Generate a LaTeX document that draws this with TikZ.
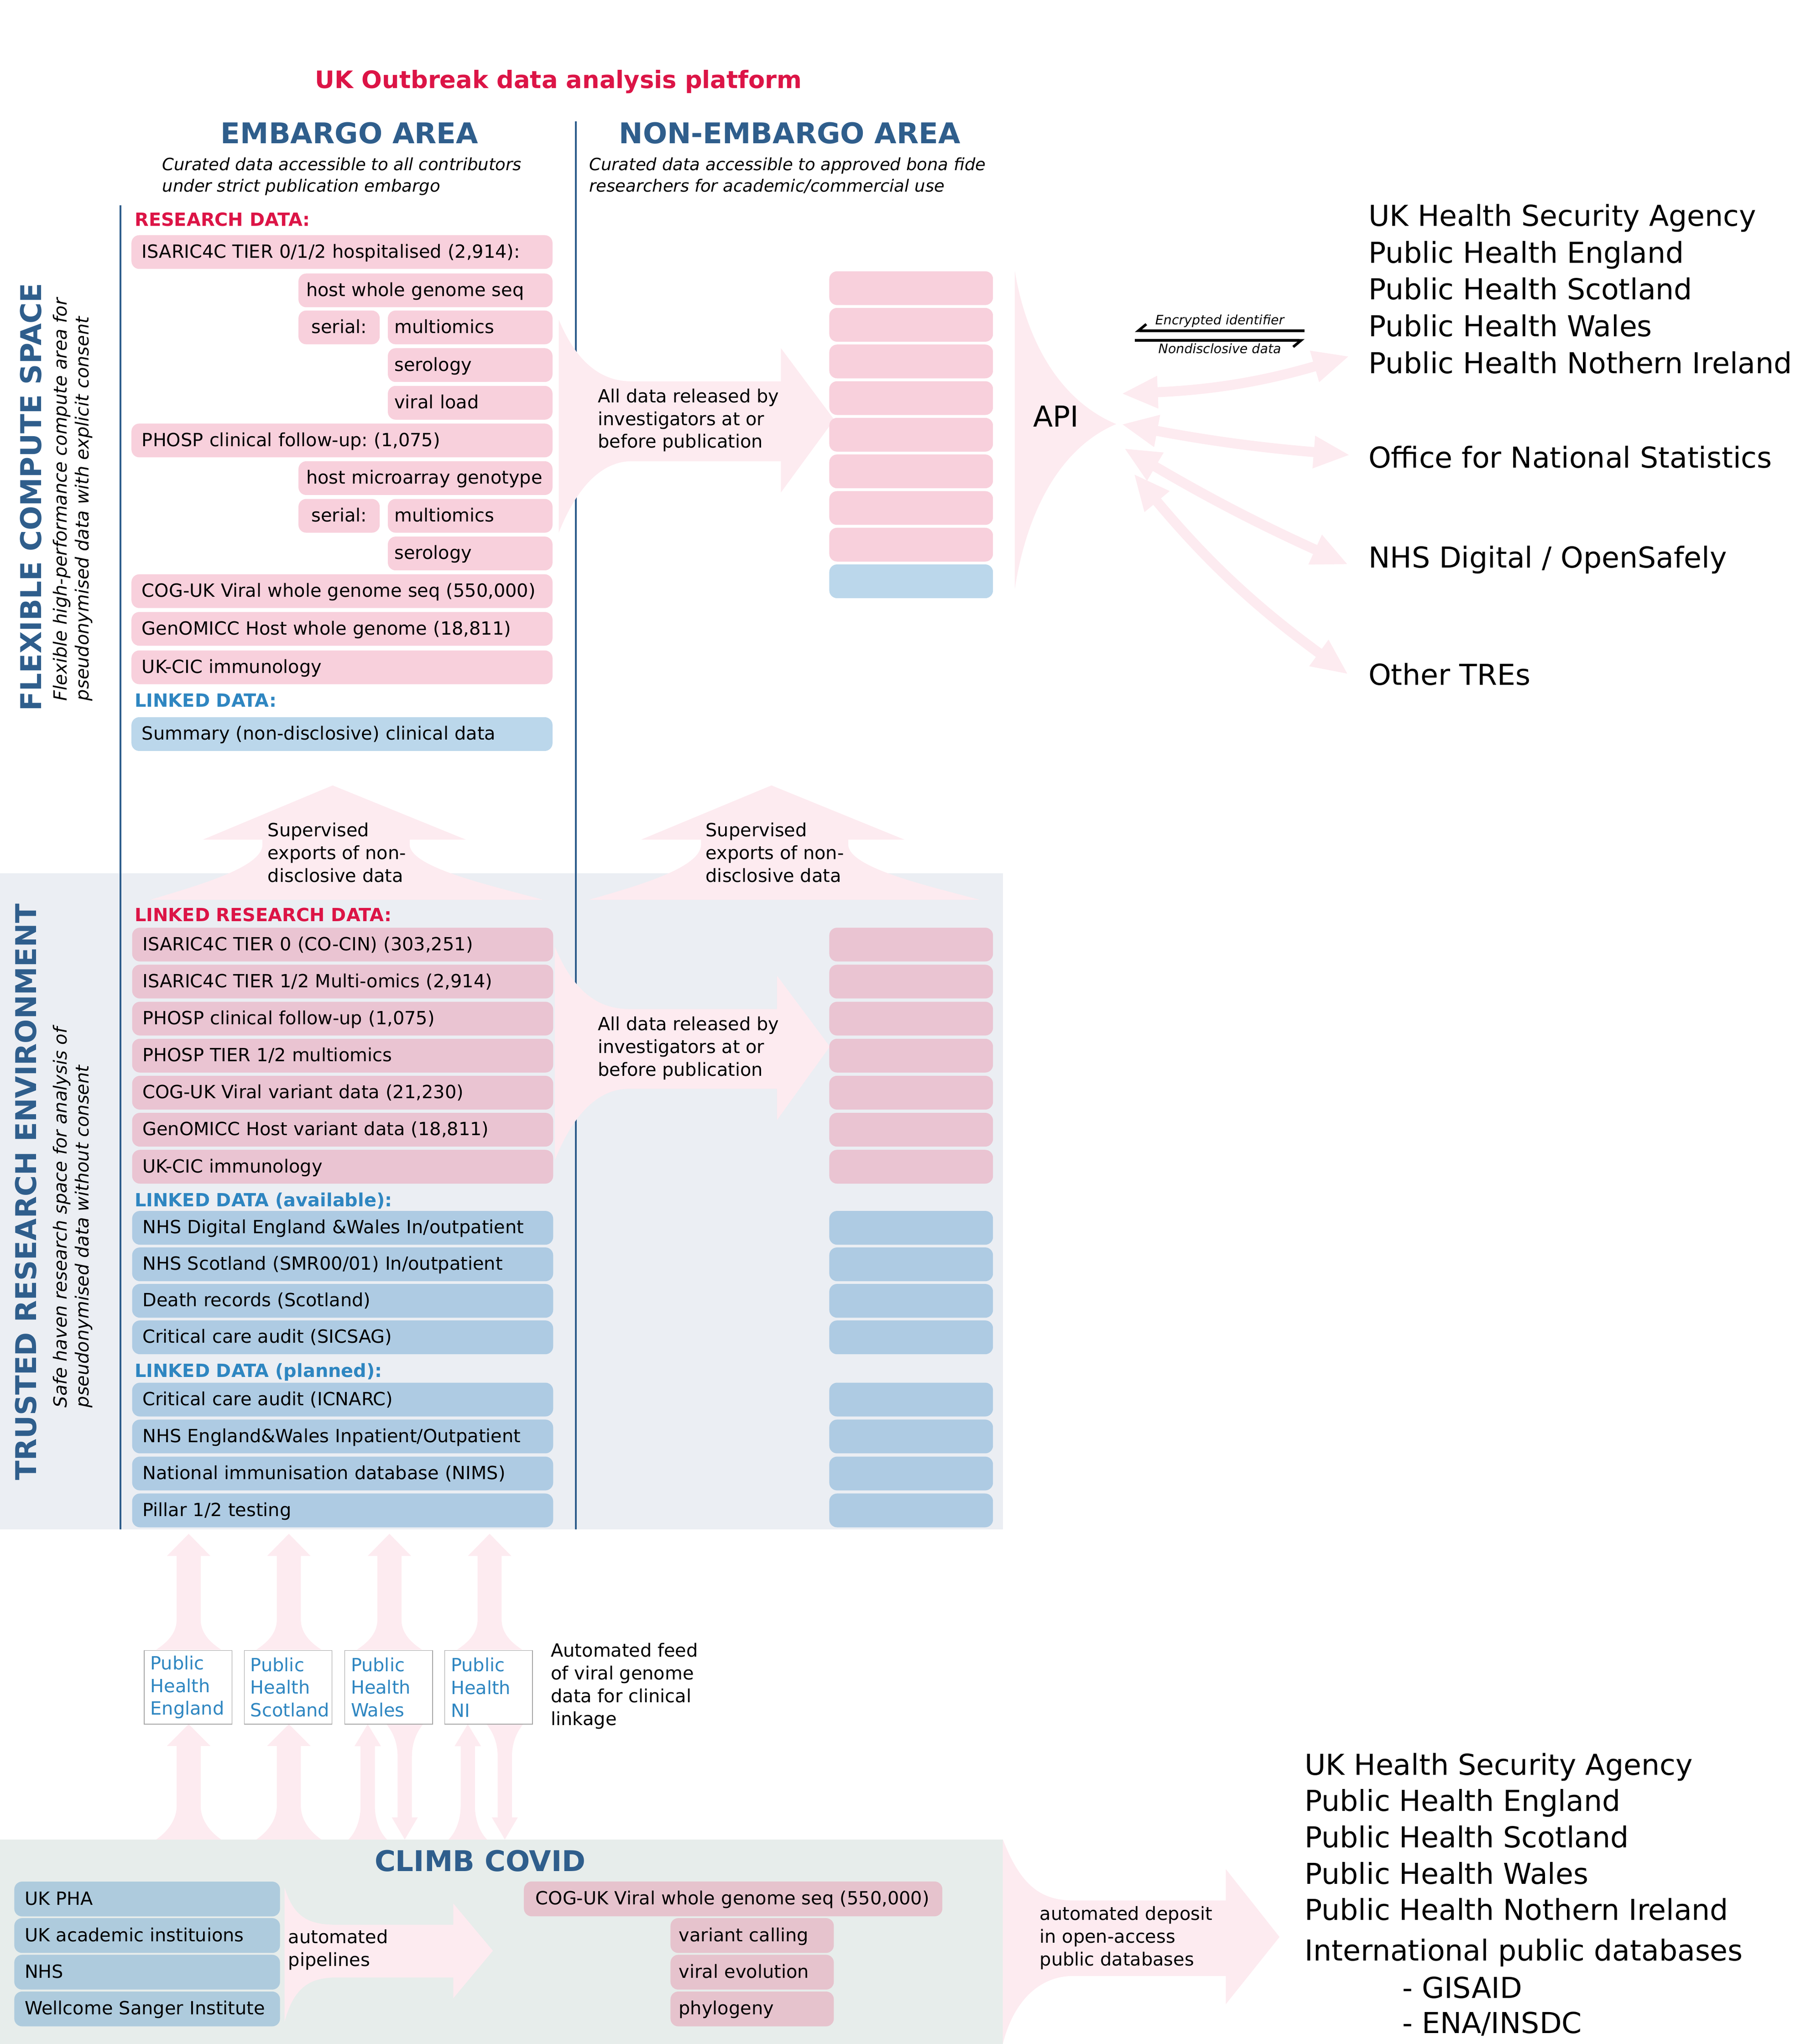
\documentclass[tikz,border=0pt]{standalone}
\usepackage{fontspec}
\setmainfont{DejaVu Sans}
\usetikzlibrary{arrows.meta}
\definecolor{crimson}{RGB}{220,20,70}
\definecolor{steel}{RGB}{47,94,140}
\definecolor{linkblue}{RGB}{46,134,193}
\definecolor{flow}{RGB}{253,235,240}
\definecolor{fcs-pink}{RGB}{248,208,220}
\definecolor{fcs-blue}{RGB}{187,215,235}
\definecolor{tre-bg}{RGB}{235,238,243}
\definecolor{tre-pink}{RGB}{234,196,210}
\definecolor{tre-blue}{RGB}{174,203,227}
\definecolor{climb-bg}{RGB}{231,237,235}
\definecolor{climb-pink}{RGB}{230,195,205}
\definecolor{climb-blue}{RGB}{174,203,221}
\frenchspacing

\begin{document}
\begin{tikzpicture}[x=1pt, y=-1pt, >={Triangle[width=23pt,length=28pt]},
	databox/.style={rounded corners=6pt, anchor=west, inner ysep=0pt, minimum height=26pt, align=left, text height=12pt, text depth=3pt, font=\fontsize{14}{17.5}\selectfont},
	widebox/.style={databox, text width=308pt, inner xsep=8pt},
	hostbox/.style={databox, text width=183.5pt, inner xsep=6pt},
	serialbox/.style={databox, text width=42.5pt, inner xsep=10pt},
	subbox/.style={databox, text width=116.7pt, inner xsep=5pt},
	blankbox/.style={databox, minimum width=126pt, inner xsep=0pt},
	climbbox/.style={databox, minimum height=26.8pt, text width=188.5pt, inner xsep=8pt},
	phbox/.style={draw=black!35, line width=0.5pt, fill=white, anchor=north west, text=linkblue, align=left, text width=58pt, inner xsep=4.8pt, minimum height=56.7pt, font=\fontsize{14}{17.5}\selectfont},
	sectionlbl/.style={anchor=base west, inner sep=0pt, font=\fontsize{14}{17.5}\selectfont\bfseries},
	areatitle/.style={inner sep=0pt, text=steel, font=\fontsize{22}{26}\selectfont\bfseries},
	subtitle/.style={anchor=north west, inner sep=0pt, align=left, font=\fontsize{13}{16.5}\selectfont\itshape},
	sidenote/.style={rotate=90, anchor=west, inner sep=0pt, align=left, font=\fontsize{14}{17}\selectfont\itshape},
	notetext/.style={anchor=north west, inner sep=0pt, align=left, font=\fontsize{14}{17.5}\selectfont},
	listtext/.style={anchor=base west, inner sep=0pt, font=\fontsize{22.2}{27}\selectfont},
	apilink/.style={flow, line width=7.7pt, <->},
	idflow/.style={line width=2pt, -{Straight Barb[right,length=6pt,width=10pt]}}]

	\useasboundingbox (0,0) rectangle (1386,1573.2);

	% panels and dividers
	\fill[tre-bg] (0,672) rectangle (772,1177);
	\fill[climb-bg] (0,1415.7) rectangle (772,1573.2);
	\draw[steel, line width=1.4pt] (92.8,158) -- (92.8,1177);
	\draw[steel, line width=1.4pt] (443,93.3) -- (443,1177);

	% broad flow arrows
	\fill[flow] (430,246) .. controls (445,282) and (465,293.5) .. (486,293.5) -- (601,293.5) -- (601,268) -- (642,323) -- (601,379) -- (601,355) -- (486,355) .. controls (465,355) and (445,372) .. (430,410) -- cycle;
	\fill[flow] (427,728.6) .. controls (442,765) and (462,776.6) .. (484,776.6) -- (598,776.6) -- (598,751) -- (638.6,805.5) -- (598,862) -- (598,838) -- (484,838) .. controls (462,838) and (442,855) .. (427,893) -- cycle;
	\fill[flow] (256,604.5) -- (358.7,646.3) -- (315.3,646.3) -- (315.3,650) .. controls (315.3,668) and (380,682) .. (417.8,692.5) -- (115.8,692.5) .. controls (150,682) and (202,668) .. (202,650) -- (202,646.3) -- (156,646.3) -- cycle;
	\fill[flow] (593.7,604.5) -- (696.2,646.3) -- (652.8,646.3) -- (652.8,650) .. controls (652.8,668) and (715,682) .. (753.8,692.5) -- (453.3,692.5) .. controls (490,682) and (539.5,668) .. (539.5,650) -- (539.5,646.3) -- (493.2,646.3) -- cycle;
	\fill[flow] (781,208.7) .. controls (790,262) and (815,308) .. (859,326.4) .. controls (815,345) and (790,395) .. (781,453) -- cycle;
	\fill[flow] (219,1452.6) .. controls (226,1476) and (238,1481.4) .. (258.6,1481.4) -- (348.8,1481.4) -- (348.8,1465) -- (379.3,1501.4) -- (348.8,1538) -- (348.8,1522) -- (258.6,1522) .. controls (238,1522) and (226,1530) .. (219,1556) -- cycle;
	\fill[flow] (771.7,1415.6) .. controls (785,1450) and (800,1462.7) .. (826,1462.7) -- (943.3,1462.7) -- (943.3,1438.5) -- (984.7,1490.8) -- (943.3,1542.6) -- (943.3,1520.8) -- (826,1520.8) .. controls (800,1520.8) and (780,1540) .. (771.7,1573.2) -- cycle;

	% feeds from CLIMB through the public health agencies
	\foreach \cx in {145.2,222.3,299.7,376.8}
		\fill[flow] (\cx,1180.5) -- (\cx+16.75,1197.6) -- (\cx+9.25,1197.6) -- (\cx+9.25,1246.5) .. controls (\cx+9.25,1258) and (\cx+18,1265) .. (\cx+25,1269.7) -- (\cx-25,1269.7) .. controls (\cx-18,1265) and (\cx-9.25,1258) .. (\cx-9.25,1246.5) -- (\cx-9.25,1197.6) -- (\cx-16.75,1197.6) -- cycle;
	\foreach \cx in {145.2,222.3}
		\fill[flow] (\cx,1327) -- (\cx+16.75,1343.8) -- (\cx+9.25,1343.8) -- (\cx+9.25,1389.8) .. controls (\cx+9.25,1402) and (\cx+18,1411) .. (\cx+25,1415.8) -- (\cx-25,1415.8) .. controls (\cx-18,1411) and (\cx-9.25,1402) .. (\cx-9.25,1389.8) -- (\cx-9.25,1343.8) -- (\cx-16.75,1343.8) -- cycle;
	\foreach \cx in {283,360}
		\fill[flow] (\cx,1327) -- (\cx+10.2,1344) -- (\cx+5.5,1344) -- (\cx+5.5,1389.8) .. controls (\cx+5.5,1402) and (\cx+10,1411) .. (\cx+14.8,1415.8) -- (\cx-14.8,1415.8) .. controls (\cx-10,1411) and (\cx-5.5,1402) .. (\cx-5.5,1389.8) -- (\cx-5.5,1344) -- (\cx-10.2,1344) -- cycle;
	\foreach \cx in {311.5,388.5}
		\fill[flow] (\cx,1415.8) -- (\cx+10,1398.8) -- (\cx+5.5,1398.8) -- (\cx+5.5,1352) .. controls (\cx+5.5,1340) and (\cx+10,1332) .. (\cx+14.4,1326.7) -- (\cx-14.4,1326.7) .. controls (\cx-10,1332) and (\cx-5.5,1340) .. (\cx-5.5,1352) -- (\cx-5.5,1398.8) -- (\cx-10,1398.8) -- cycle;

	% headings
	\node[anchor=base, inner sep=0pt, text=crimson, font=\fontsize{18.5}{22}\selectfont\bfseries] (title) at (429.9,67.9) {UK Outbreak data analysis platform};
	\node[areatitle, anchor=base] (embargo) at (269,110.6) {EMBARGO AREA};
	\node[areatitle, anchor=base] (nonembargo) at (607.8,110.6) {NON-EMBARGO AREA};
	\node[subtitle] (embargonote) at (124.7,121.1) {Curated data accessible to all contributors\\under strict publication embargo};
	\node[subtitle] (nonembargonote) at (453.3,121.1) {Curated data accessible to approved bona fide\\researchers for academic/commercial use};
	\node[areatitle, rotate=90] (fcs) at (23.8,382.5) {FLEXIBLE COMPUTE SPACE};
	\node[sidenote] (fcsnote) at (56,539.6) {Flexible high-performance compute area for\\pseudonymised data with explicit consent};
	\node[areatitle, rotate=90] (tre) at (20,917.5) {TRUSTED RESEARCH ENVIRONMENT};
	\node[sidenote] (trenote) at (56,1083.6) {Safe haven research space for analysis of\\pseudonymised data without consent};

	% flexible compute space
	\node[sectionlbl, text=crimson] (researchlbl) at (103.5,174) {RESEARCH DATA:};
	\node[widebox, fill=fcs-pink] (isaric) at (101,194) {ISARIC4C TIER 0/1/2 hospitalised (2,914):};
	\node[hostbox, fill=fcs-pink] (hostwgs) at (229.5,223.5) {host whole genome seq};
	\node[serialbox, fill=fcs-pink] (serialA) at (229.5,252) {serial:};
	\node[subbox, fill=fcs-pink] (multiA) at (298.3,252) {multiomics};
	\node[subbox, fill=fcs-pink] (seroA) at (298.3,281) {serology};
	\node[subbox, fill=fcs-pink] (viralload) at (298.3,310) {viral load};
	\node[widebox, fill=fcs-pink] (phosp) at (101,339) {PHOSP clinical follow-up: (1,075)};
	\node[hostbox, fill=fcs-pink] (hostarray) at (229.5,368) {host microarray genotype};
	\node[serialbox, fill=fcs-pink] (serialB) at (229.5,397) {serial:};
	\node[subbox, fill=fcs-pink] (multiB) at (298.3,397) {multiomics};
	\node[subbox, fill=fcs-pink] (seroB) at (298.3,426) {serology};
	\node[widebox, fill=fcs-pink] (cogwgs) at (101,455) {COG-UK Viral whole genome seq (550,000)};
	\node[widebox, fill=fcs-pink] (genomicc) at (101,484) {GenOMICC Host whole genome (18,811)};
	\node[widebox, fill=fcs-pink] (ukcic) at (101,513.6) {UK-CIC immunology};
	\node[sectionlbl, text=linkblue] (linkedlbl) at (103.5,544) {LINKED DATA:};
	\node[widebox, fill=fcs-blue] (summary) at (101,565) {Summary (non-disclosive) clinical data};
	\foreach \k in {0,...,7}
		\node[blankbox, fill=fcs-pink] (release\k) at (638,221.8+28.2*\k) {};
	\node[blankbox, fill=fcs-blue] (release8) at (638,447.4) {};

	\node[notetext] (releasenote) at (459.9,299) {All data released by\\investigators at or\\before publication};
	\node[notetext] (exportnoteA) at (205.9,633.1) {Supervised\\exports of non-\\disclosive data};
	\node[notetext] (exportnoteB) at (542.9,633.1) {Supervised\\exports of non-\\disclosive data};

	% trusted research environment
	\node[sectionlbl, text=crimson] (linkedresearchlbl) at (103.5,709) {LINKED RESEARCH DATA:};
	\node[widebox, fill=tre-pink] (cocin) at (101.5,727) {ISARIC4C TIER 0 (CO-CIN) (303,251)};
	\node[widebox, fill=tre-pink] (tieromics) at (101.5,755.5) {ISARIC4C TIER 1/2 Multi-omics (2,914)};
	\node[widebox, fill=tre-pink] (phospfu) at (101.5,784) {PHOSP clinical follow-up (1,075)};
	\node[widebox, fill=tre-pink] (phospomics) at (101.5,812.5) {PHOSP TIER 1/2 multiomics};
	\node[widebox, fill=tre-pink] (cogvariant) at (101.5,841) {COG-UK Viral variant data (21,230)};
	\node[widebox, fill=tre-pink] (hostvariant) at (101.5,869.5) {GenOMICC Host variant data (18,811)};
	\node[widebox, fill=tre-pink] (ukcicB) at (101.5,898) {UK-CIC immunology};
	\node[sectionlbl, text=linkblue] (availlbl) at (103.5,928.5) {LINKED DATA (available):};
	\node[widebox, fill=tre-blue] (nhsdew) at (101.5,945) {NHS Digital England \&Wales In/outpatient};
	\node[widebox, fill=tre-blue] (smr) at (101.5,973.1) {NHS Scotland (SMR00/01) In/outpatient};
	\node[widebox, fill=tre-blue] (deaths) at (101.5,1001.2) {Death records (Scotland)};
	\node[widebox, fill=tre-blue] (sicsag) at (101.5,1029.3) {Critical care audit (SICSAG)};
	\node[sectionlbl, text=linkblue] (plannedlbl) at (103.5,1060) {LINKED DATA (planned):};
	\node[widebox, fill=tre-blue] (icnarc) at (101.5,1077.2) {Critical care audit (ICNARC)};
	\node[widebox, fill=tre-blue] (nhsew) at (101.5,1105.6) {NHS England\&Wales Inpatient/Outpatient};
	\node[widebox, fill=tre-blue] (nims) at (101.5,1134.1) {National immunisation database (NIMS)};
	\node[widebox, fill=tre-blue] (pillar) at (101.5,1162.5) {Pillar 1/2 testing};
	\foreach \y [count=\i] in {727,755.5,784,812.5,841,869.5,898}
		\node[blankbox, fill=tre-pink] (trepink\i) at (638,\y) {};
	\foreach \y [count=\i] in {945,973.1,1001.2,1029.3,1077.2,1105.6,1134.1,1162.5}
		\node[blankbox, fill=tre-blue] (treblue\i) at (638,\y) {};
	\node[notetext] (releasenoteB) at (459.9,782.3) {All data released by\\investigators at or\\before publication};

	% public health agencies
	\node[phbox] (phe) at (110.7,1270) {Public\\Health\\England};
	\node[phbox] (phs) at (187.7,1270) {Public\\Health\\Scotland};
	\node[phbox] (phw) at (265,1270) {Public\\Health\\Wales};
	\node[phbox] (phni) at (342,1270) {Public\\Health\\NI};
	\node[notetext] (feednote) at (423.8,1264.5) {Automated feed\\of viral genome\\data for clinical\\linkage};

	% CLIMB COVID
	\node[areatitle, anchor=base] (climb) at (369.5,1440.3) {CLIMB COVID};
	\node[climbbox, fill=climb-blue] (ukpha) at (10.8,1461.6) {UK PHA};
	\node[climbbox, fill=climb-blue] (academic) at (10.8,1489.7) {UK academic instituions};
	\node[climbbox, fill=climb-blue] (nhs) at (10.8,1517.9) {NHS};
	\node[climbbox, fill=climb-blue] (sanger) at (10.8,1546.2) {Wellcome Sanger Institute};
	\node[notetext] (pipenote) at (221.7,1485) {automated\\pipelines};
	\node[climbbox, fill=climb-pink, text width=304pt, inner xsep=9pt] (cogclimb) at (403,1461.5) {COG-UK Viral whole genome seq (550,000)};
	\node[climbbox, fill=climb-pink, text width=112.9pt, inner xsep=6.4pt] (calling) at (515.8,1489.7) {variant calling};
	\node[climbbox, fill=climb-pink, text width=112.9pt, inner xsep=6.4pt] (evolution) at (515.8,1517.9) {viral evolution};
	\node[climbbox, fill=climb-pink, text width=112.9pt, inner xsep=6.4pt] (phylogeny) at (515.8,1546.2) {phylogeny};
	\node[notetext] (depositnote) at (800,1467.1) {automated deposit\\in open-access\\public databases};

	% API and partners
	\node[listtext] (api) at (795,328.5) {API};
	\node[listtext] (ukhsaA) at (1053,174) {UK Health Security Agency};
	\node[listtext] (pheA) at (1053,202.3) {Public Health England};
	\node[listtext] (phsA) at (1053,230.6) {Public Health Scotland};
	\node[listtext] (phwA) at (1053,259) {Public Health Wales};
	\node[listtext] (phniA) at (1053,287.3) {Public Health Nothern Ireland};
	\node[listtext] (ons) at (1053,360) {Office for National Statistics};
	\node[listtext] (nhsd) at (1053,437) {NHS Digital / OpenSafely};
	\node[listtext] (othertre) at (1053,527.3) {Other TREs};

	\coordinate (apiA) at (863,303);
	\coordinate (apiB) at (863,326.5);
	\coordinate (apiC) at (865,345);
	\coordinate (apiD) at (872.5,364.6);
	\draw[apilink] (apiA) to[bend right=7] ([xshift=-14.5pt,yshift=4.9pt]phniA.west);
	\draw[apilink] (apiB) to[bend right=3] ([xshift=-14pt,yshift=1.5pt]ons.west);
	\draw[apilink] (apiC) to[bend right=3] ([xshift=-15.4pt,yshift=-3.7pt]nhsd.west);
	\draw[apilink] (apiD) to[bend right=7] ([xshift=-15.4pt]othertre.west);

	\coordinate (idL) at (873.4,254.5);
	\coordinate (idR) at (1004,254.5);
	\coordinate (ndL) at (873.4,262);
	\coordinate (ndR) at (1004,262);
	\draw[idflow] (idR) -- node[above, inner sep=1.5pt, font=\fontsize{10}{12}\selectfont\itshape] (idlabel) {Encrypted identifier} (idL);
	\draw[idflow] (ndL) -- node[below, inner sep=1.5pt, font=\fontsize{10}{12}\selectfont\itshape] (ndlabel) {Nondisclosive data} (ndR);

	% open-access deposit
	\node[listtext] (ukhsaB) at (1004,1366) {UK Health Security Agency};
	\node[listtext] (pheB) at (1004,1394) {Public Health England};
	\node[listtext] (phsB) at (1004,1422) {Public Health Scotland};
	\node[listtext] (phwB) at (1004,1450) {Public Health Wales};
	\node[listtext] (phniB) at (1004,1478) {Public Health Nothern Ireland};
	\node[listtext] (intdb) at (1004,1509) {International public databases};
	\node[listtext] (gisaid) at (1079,1538) {- GISAID};
	\node[listtext] (ena) at (1079,1565) {- ENA/INSDC};

\end{tikzpicture}
\end{document}
